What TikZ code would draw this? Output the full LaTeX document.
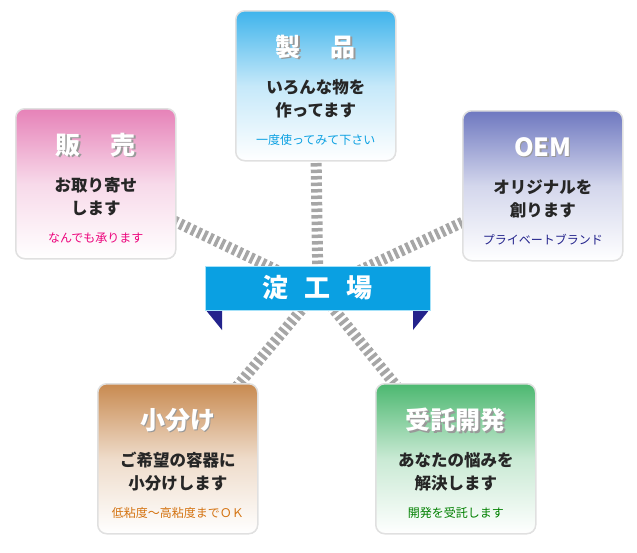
\documentclass[tikz,border=0pt]{standalone}
\usepackage{fontspec}
\newfontfamily\jp{Noto Sans CJK JP}
\definecolor{cA}{HTML}{3FB4EC}
\definecolor{cB}{HTML}{E682B8}
\definecolor{cC}{HTML}{6E78C0}
\definecolor{cD}{HTML}{C88A50}
\definecolor{cE}{HTML}{4CB870}
\definecolor{ban}{HTML}{0AA0E2}
\definecolor{bandark}{HTML}{23238C}
\begin{document}
\begin{tikzpicture}[x=1pt,y=-1pt,
  stripe/.style={line width=11pt,draw=black!35,dash pattern=on 3.5pt off 3pt},
  card/.style={draw=black!12,line width=1.5pt,rounded corners=9pt,minimum width=160pt,minimum height=150pt,inner sep=0pt,anchor=north west,top color=#1,bottom color=white,middle color=#1!30},
  ttl/.style={font=\jp\bfseries\fontsize{25}{27}\selectfont,text=white},
  ttlsh/.style={font=\jp\bfseries\fontsize{25}{27}\selectfont,text=black!40},
  body/.style={font=\jp\bfseries\fontsize{16.5}{23}\selectfont,text=black!85,align=center},
  foot/.style={font=\jp\fontsize{12}{14}\selectfont}]
\useasboundingbox (0,0) rectangle (637,552);
\coordinate (c) at (318,290);
\coordinate (pA) at (315,85);
\coordinate (pB) at (95,183);
\coordinate (pC) at (542,185);
\coordinate (pD) at (177,458);
\coordinate (pE) at (455,458);
\foreach \p in {pA,pB,pC,pD,pE} \draw[stripe] (c) -- (\p);
% cards
\node[card=cA] (A) at (235,10) {};
\node[card=cB] (B) at (15,108) {};
\node[card=cC] (C) at (462,110) {};
\node[card=cD] (D) at (97,383) {};
\node[card=cE] (E) at (375,383) {};
% texts
\newcommand\cardtext[6]{%
  \node[ttlsh] at ([xshift=1.5pt,yshift=-38.5pt]#1.north) {#2};
  \node[ttl] (#1t) at ([yshift=-37pt]#1.north) {#2};
  \node[body] (#1b) at ([yshift=-89pt]#1.north) {#3\\#4};
  \node[foot,text=#6] (#1f) at ([yshift=-130pt]#1.north) {#5};}
\cardtext{A}{製\hspace{1.2em}品}{いろんな物を}{作ってます}{一度使ってみて下さい}{ban}
\cardtext{B}{販\hspace{1.2em}売}{お取り寄せ}{します}{なんでも承ります}{magenta!85!red}
\cardtext{C}{OEM}{オリジナルを}{創ります}{プライベートブランド}{bandark}
\cardtext{D}{小分け}{ご希望の容器に}{小分けします}{低粘度〜高粘度までＯＫ}{orange!70!brown!90!black}
\cardtext{E}{受託開発}{あなたの悩みを}{解決します}{開発を受託します}{green!50!black}
% banner
\fill[bandark] (205,309) -- (222,309) -- (222,330) -- cycle;
\fill[bandark] (430,309) -- (413,309) -- (413,330) -- cycle;
\node[fill=ban,draw=cyan!35,line width=1pt,minimum width=225pt,minimum height=44pt,inner sep=0pt,
  font=\jp\bfseries\fontsize{26}{28}\selectfont,text=white] (ban) at (317.5,288) {淀\hspace{0.6em}工\hspace{0.6em}場};
\end{tikzpicture}
\end{document}
